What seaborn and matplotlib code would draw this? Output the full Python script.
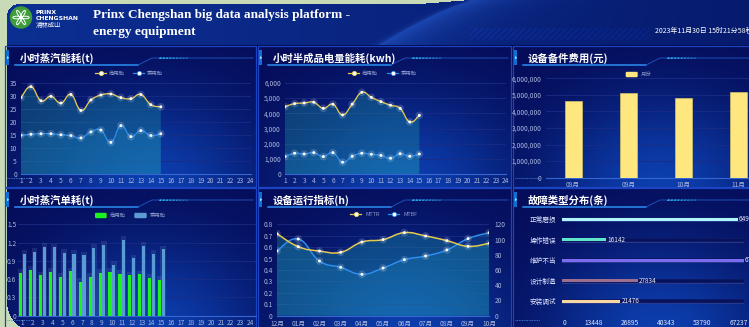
import numpy as np
import pandas as pd
import matplotlib
matplotlib.use("Agg")
import matplotlib.pyplot as plt
import seaborn as sns
from matplotlib.path import Path
from matplotlib.patches import PathPatch, Rectangle, FancyBboxPatch, Circle, Ellipse, Polygon
from matplotlib.colors import to_rgb
from matplotlib.ticker import FuncFormatter
import matplotlib.transforms as mtransforms

W, H = 749, 327

# ---------------- data ----------------
hours = list(range(1, 25))
steam_commercial = [29.3, 33.5, 28.1, 29.8, 27.2, 30.5, 24.4, 28.4, 30.3, 30.7, 29.3, 28.9, 30.5, 26.6, 25.8]
steam_passenger = [14.9, 15.3, 15.5, 15.5, 15.1, 14.8, 13.9, 16.2, 16.9, 12.2, 18.6, 14.4, 16.7, 14.8, 15.5]
power_commercial = [4430, 4630, 4670, 4720, 4320, 4590, 3890, 4590, 5370, 5040, 4760, 4520, 4320, 3430, 3860]
power_passenger = [1160, 1380, 1330, 1420, 1160, 1420, 790, 1180, 1380, 1310, 1240, 1050, 1350, 1180, 1330]
spare_months = ['08月', '09月', '10月', '11月']
spare_cost = [4650000, 5090000, 4790000, 5150000]
unit_commercial = [0.70, 0.75, 0.66, 0.72, 0.64, 0.73, 0.56, 0.64, 0.70, 0.72, 0.69, 0.66, 0.68, 0.62, 0.59]
unit_passenger = [1.02, 1.05, 1.13, 1.12, 1.03, 1.02, 0.99, 1.11, 1.16, 0.83, 1.25, 0.94, 1.15, 1.02, 1.09]
run_months = ['12月', '01月', '02月', '03月', '04月', '05月', '06月', '07月', '08月', '09月', '10月']
mttr = [0.717, 0.604, 0.566, 0.555, 0.645, 0.666, 0.727, 0.698, 0.657, 0.607, 0.634]
mtbf = [85, 100.7, 71.8, 63.5, 54.3, 62.6, 73.6, 78.4, 86.3, 101.2, 109]
fault_types = ['正常磨损', '操作错误', '维护不当', '设计制造', '安装调试']
fault_counts = [64917, 16142, 67237, 27834, 21476]
fault_ticks = [0, 13448, 26895, 40343, 53790, 67237]

COMMERCIAL, PASSENGER = '商用胎', '乘用胎'
panel_titles = ['小时蒸汽能耗(t)', '小时半成品电量能耗(kwh)', '设备备件费用(元)',
                '小时蒸汽单耗(t)', '设备运行指标(h)', '故障类型分布(条)']

# ---------------- style ----------------
YELLOW_LINE = '#e6c84c'
BLUE_LINE = '#2f8ceb'
TICK = '#a9b5dc'
GRID = '#1a2c84'
AXIS = '#3566d2'
BAR_GREEN = '#1ef21e'
BAR_BLUE = '#5b9bd5'
BAR_YELLOW = '#fee77f'
fault_colors = ['#aef5ff', '#5fe6c9', '#7a6cf0', '#9c6f8f', '#f6d7a4']

plt.rcParams['font.family'] = ['Noto Sans CJK SC', 'DejaVu Sans']
plt.rcParams['axes.unicode_minus'] = False

fig = plt.figure(figsize=(W / 100, H / 100), dpi=100)
fig.patch.set_facecolor('#c8dbb6')

# ---------------- background canvas ----------------
yy, xx = np.mgrid[0:H, 0:W] + 0.5
img = np.empty((H, W, 3))
img[:] = to_rgb('#c8dbb6')

left = 7.0
top_edge = np.interp(xx, [0, 420, 470, W], [4, 4, 0, 0])
inside = (xx >= left) & (yy >= top_edge)
r1, c1 = 12, (left + 12, 4 + 12)
inside &= ~((xx < c1[0]) & (yy < c1[1]) & ((xx - c1[0]) ** 2 + (yy - c1[1]) ** 2 > r1 ** 2))
r2, c2 = 30, (left + 30, H + 5 - 30)
inside &= ~((xx < c2[0]) & (yy > c2[1]) & ((xx - c2[0]) ** 2 + (yy - c2[1]) ** 2 > r2 ** 2))

def lerp(a, b, t):
    a = np.array(to_rgb(a)); b = np.array(to_rgb(b))
    return a + (b - a) * t[..., None]

# header band
hdr = lerp('#0c2f93', '#061b6e', np.clip(xx / W, 0, 1))
curve_x = 470 - 90 * np.clip((yy - 2) / 43, 0, 1) ** 0.8
d = xx - curve_x
swoosh = np.where(d > 0, np.exp(-d / 40.0), np.exp(d / 4.0)) * 0.55
hdr = hdr + (np.array(to_rgb('#2a62d6')) - hdr) * swoosh[..., None]
stripes = ((np.floor((xx + yy) / 3.0) % 2) == 0) & (xx > 470) & (xx < 650) & (yy > 28) & (yy < 40)
hdr[stripes] = hdr[stripes] * 1.15
body = np.empty_like(img); body[:] = to_rgb('#030a4c')
m_hdr = inside & (yy < 45)
m_body = inside & (yy >= 45)
img[m_hdr] = hdr[m_hdr]
img[m_body] = body[m_body]

panels = [(5, 46, 256, 187), (258, 46, 511, 187), (513, 46, 765, 187),
          (5, 188, 256, 345), (258, 188, 511, 345), (513, 188, 765, 345)]
for (x0, y0, x1, y1) in panels:
    w, h = x1 - x0, min(y1, H + 8) - y0
    cx, cy = x0 + 0.58 * w, y0 + h
    dd = ((xx - cx) / (0.6 * w)) ** 2 + ((yy - cy) / (0.85 * h)) ** 2
    col = lerp('#050c58', '#0c3ead', np.exp(-1.7 * dd))
    sub = inside & (xx >= x0) & (xx < x1) & (yy >= y0) & (yy < y1)
    img[sub] = col[sub]

bg = fig.add_axes([0, 0, 1, 1])
bg.imshow(img, extent=(0, W, H, 0), aspect='auto', interpolation='bilinear', zorder=0)
bg.set_xlim(0, W); bg.set_ylim(H, 0); bg.axis('off')

for (x0, y0, x1, y1) in panels:
    bg.add_patch(Rectangle((x0, y0), x1 - x0, y1 - y0, fill=False, ec='#1b44c2', lw=0.9, zorder=1))

# ---------------- header ----------------
bg.add_patch(Circle((21, 17.5), 10.5, color='#3e9c3b', zorder=2))
for ang in range(0, 360, 60):
    bg.add_patch(Ellipse((21 + 4.2 * np.cos(np.radians(ang)), 17.5 + 4.2 * np.sin(np.radians(ang))),
                         8.0, 2.6, angle=ang, fc='none', ec='white', lw=0.7, zorder=3))
bg.add_patch(Circle((21, 17.5), 1.4, color='white', zorder=3))
bg.text(36, 13, 'PRINX', color='white', fontsize=4.4, fontweight='bold', family='DejaVu Sans', va='center')
bg.text(36, 19, 'CHENGSHAN', color='white', fontsize=4.4, fontweight='bold', family='DejaVu Sans', va='center')
bg.text(36, 25.3, '浦林成山', color='white', fontsize=4.6, va='center')
bg.text(93, 15, 'Prinx Chengshan big data analysis platform -', color='white', fontsize=9.5,
        fontweight='bold', family='Liberation Serif', va='center')
bg.text(93, 32, 'energy equipment', color='white', fontsize=9.5,
        fontweight='bold', family='Liberation Serif', va='center')
bg.text(655, 31, '2023年11月30日 15时21分58秒', color='white', fontsize=5, va='center')

# ---------------- panel headers ----------------
def panel_header(x0, y0, x1, title):
    bg.add_patch(Rectangle((x0 + 1.2, y0 + 4), 2.4, 15, color='#0f6fd2', lw=0, zorder=2))
    bg.add_patch(Polygon([(x0 + 2, y0 + 10), (x0 + 4.2, y0 + 11.7), (x0 + 2, y0 + 13.4)],
                         color='#9fe0ff', lw=0, zorder=3))
    bg.text(x0 + 15, y0 + 12, title, color='white', fontsize=7.5, fontweight='bold',
            va='center', ha='left', zorder=3)
    bg.plot([x0 + 10, x0 + 133], [y0 + 19, y0 + 19], color='#2b8df2', lw=1.1, zorder=2)
    bg.plot([x0 + 133, x0 + 147, x1 - 3], [y0 + 19, y0 + 12, y0 + 12], color='#1d4fb8', lw=0.7, zorder=2)
    for k in range(9):
        xs = x0 + 154 + k * 3.3
        bg.add_patch(Polygon([(xs, y0 + 13), (xs + 2.2, y0 + 13), (xs + 3, y0 + 11.4), (xs + 0.8, y0 + 11.4)],
                             color='#2fb8f0', alpha=1 - k * 0.08, lw=0, zorder=3))

for (x0, y0, x1, y1), t in zip(panels, panel_titles):
    panel_header(x0, y0, min(x1, W + 5), t)

for x0, yb in [(5, 177.7), (513, 177.7), (5, 320), (513, 320)]:
    bg.plot([x0 + 2, x0 + 27], [yb, yb], ls=(0, (1, 1)), color='#4b8fe8', lw=0.6, zorder=2)

# ---------------- helpers ----------------
def add_ax(x0, y0, x1, y1, **kw):
    return fig.add_axes([x0 / W, 1 - y1 / H, (x1 - x0) / W, (y1 - y0) / H], **kw)

def style(ax, grid=True, bottom=True):
    ax.set_facecolor('none')
    for s in ax.spines.values():
        s.set_visible(False)
    if bottom:
        ax.spines['bottom'].set_visible(True)
        ax.spines['bottom'].set_color(AXIS)
        ax.spines['bottom'].set_linewidth(0.8)
    ax.tick_params(axis='both', length=0, labelsize=4.8, labelcolor=TICK)
    ax.tick_params(axis='x', pad=2.3)
    ax.tick_params(axis='y', pad=2.9)
    if grid:
        ax.yaxis.grid(True, color=GRID, lw=0.6)
        ax.set_axisbelow(True)
    ax.set_xlabel('')
    ax.set_ylabel('')

def smooth_path(xs, ys, k=0.22, base=None):
    pts = np.column_stack([np.asarray(xs, float), np.asarray(ys, float)])
    n = len(pts)
    verts, codes = [], []
    if base is not None:
        verts += [(pts[0, 0], base), tuple(pts[0])]
        codes += [Path.MOVETO, Path.LINETO]
    else:
        verts.append(tuple(pts[0]))
        codes.append(Path.MOVETO)
    for i in range(n - 1):
        p0, p1 = pts[max(i - 1, 0)], pts[i]
        p2, p3 = pts[i + 1], pts[min(i + 2, n - 1)]
        verts += [tuple(p1 + (p2 - p0) * k), tuple(p2 - (p3 - p1) * k), tuple(p2)]
        codes += [Path.CURVE4] * 3
    if base is not None:
        verts += [(pts[-1, 0], base), (pts[0, 0], base)]
        codes += [Path.LINETO, Path.CLOSEPOLY]
    return Path(verts, codes)

def draw_fill(ax, xs, ys, color, alpha):
    ax.add_patch(PathPatch(smooth_path(xs, ys, base=0), fc=color, ec='none', alpha=alpha, zorder=1))

def draw_line(ax, xs, ys, color, lw=0.95):
    ax.add_patch(PathPatch(smooth_path(xs, ys), fc='none', ec=color, lw=lw, zorder=3))
    sns.scatterplot(x=xs, y=ys, ax=ax, s=30, color='white', alpha=0.16, edgecolor='none',
                    legend=False, zorder=4)
    sns.scatterplot(x=xs, y=ys, ax=ax, s=4.5, color='white', edgecolor='none', legend=False, zorder=5)

def line_legend(items, y):
    for x, color, label, gap in items:
        bg.plot([x, x + 11], [y, y], color=color, lw=0.9, zorder=4)
        bg.scatter([x + 5.5], [y], s=10, color='white', edgecolors=color, linewidths=0.5, zorder=5)
        bg.text(x + gap, y, label, fontsize=3.9, color='#8e9ccc', va='center', zorder=5)

def box_legend(items, y):
    for x, wdt, color, label in items:
        bg.add_patch(FancyBboxPatch((x, y - 2.7), wdt, 5.4, boxstyle='round,pad=0,rounding_size=1.2',
                                    fc=color, ec='none', zorder=4))
        bg.text(x + wdt + 3, y, label, fontsize=3.9, color='#8e9ccc', va='center', zorder=5)

# ---------------- panel 1: hourly steam consumption ----------------
ax1 = add_ax(21, 82.7, 250.7, 174.3)
x_used = hours[:len(steam_commercial)]
draw_fill(ax1, x_used, steam_commercial, '#1fa6a6', 0.30)
draw_fill(ax1, x_used, steam_passenger, '#1f90c4', 0.22)
draw_line(ax1, x_used, steam_commercial, YELLOW_LINE)
draw_line(ax1, x_used, steam_passenger, BLUE_LINE)
ax1.set_xlim(1, 24); ax1.set_ylim(0, 35)
ax1.set_xticks(hours); ax1.set_yticks(range(0, 36, 5))
style(ax1)
line_legend([(95, YELLOW_LINE, COMMERCIAL, 14), (133, BLUE_LINE, PASSENGER, 14)], 73.3)

# ---------------- panel 2: semi-finished product power ----------------
ax2 = add_ax(285, 82.7, 505.7, 174.3)
x_used = hours[:len(power_commercial)]
draw_fill(ax2, x_used, power_commercial, '#1fa6a6', 0.30)
draw_fill(ax2, x_used, power_passenger, '#1f90c4', 0.22)
draw_line(ax2, x_used, power_commercial, YELLOW_LINE)
draw_line(ax2, x_used, power_passenger, BLUE_LINE)
ax2.set_xlim(1, 24); ax2.set_ylim(0, 6000)
ax2.set_xticks(hours); ax2.set_yticks(range(0, 6001, 1000))
ax2.yaxis.set_major_formatter(FuncFormatter(lambda v, p: f'{v:,.0f}'))
style(ax2)
line_legend([(348, YELLOW_LINE, COMMERCIAL, 14), (387, BLUE_LINE, PASSENGER, 14)], 73.3)

# ---------------- panel 3: spare part cost ----------------
ax3 = add_ax(545.5, 78.3, 766.5, 177.7)
sns.barplot(x=spare_months, y=spare_cost, color=BAR_YELLOW, width=0.31, saturation=1,
            edgecolor='#e9cf63', linewidth=0.4, ax=ax3, zorder=3)
ax3.set_ylim(0, 6000000); ax3.set_xlim(-0.5, 3.5)
ax3.set_yticks(range(0, 6000001, 1000000))
ax3.yaxis.set_major_formatter(FuncFormatter(lambda v, p: f'{v:,.0f}'))
style(ax3)
box_legend([(625.7, 12, BAR_YELLOW, '月份')], 74.5)

# ---------------- panel 4: steam per unit ----------------
ax4 = add_ax(17.7, 224.3, 255.6, 315.7)
n_used = len(unit_commercial)
df_unit = pd.DataFrame({
    'hour': hours[:n_used] * 2,
    'value': unit_commercial + unit_passenger,
    'type': [COMMERCIAL] * n_used + [PASSENGER] * n_used,
})
sns.barplot(data=df_unit, x='hour', y='value', hue='type', order=hours,
            hue_order=[COMMERCIAL, PASSENGER], palette=[BAR_GREEN, BAR_BLUE],
            width=0.74, gap=0.12, saturation=1, errorbar=None, legend=False, ax=ax4, zorder=3)
for p in list(ax4.patches):
    hgt = p.get_height()
    if hgt > 0:
        ax4.add_patch(Rectangle((p.get_x() - 0.12, 0), p.get_width() + 0.24, hgt + 0.06,
                                fc='#8a98cc', ec='none', alpha=0.16, zorder=2))
ax4.set_xlim(-0.5, 23.5); ax4.set_ylim(0, 1.5)
ax4.set_yticks([0, 0.3, 0.6, 0.9, 1.2, 1.5])
ax4.yaxis.set_major_formatter(FuncFormatter(lambda v, p: f'{v:g}'))
style(ax4)
ax4.tick_params(axis='y', pad=1.0)
box_legend([(95, 11.7, BAR_GREEN, COMMERCIAL), (134.3, 12.4, BAR_BLUE, PASSENGER)], 215.5)

# ---------------- panel 5: MTTR / MTBF ----------------
pos5 = (277, 224.3, 489.3, 315.7)
ax5 = add_ax(*pos5)
xm = np.arange(len(run_months))
draw_fill(ax5, xm, mttr, '#1fa6a6', 0.30)
ax5.set_xlim(0, len(run_months) - 1); ax5.set_ylim(0, 0.8)
ax5.set_xticks(xm, run_months)
ax5.set_yticks(np.arange(0, 0.81, 0.1))
ax5.yaxis.set_major_formatter(FuncFormatter(lambda v, p: f'{v:.1f}'.rstrip('0').rstrip('.') if v else '0'))
style(ax5)
ax5.tick_params(axis='x', pad=3.4)
ax5.tick_params(axis='y', pad=3.2)

ax5r = ax5.twinx()
draw_fill(ax5r, xm, mtbf, '#1f90c4', 0.22)
draw_line(ax5r, xm, mtbf, BLUE_LINE, lw=1.1)
ax5r.set_ylim(0, 120); ax5r.set_yticks(range(0, 121, 20))
style(ax5r, grid=False, bottom=False)
ax5r.tick_params(axis='y', pad=3.8)

ax5t = add_ax(*pos5, sharex=ax5, sharey=ax5)
draw_line(ax5t, xm, mttr, YELLOW_LINE, lw=1.1)
ax5t.set_xlim(0, len(run_months) - 1); ax5t.set_ylim(0, 0.8)
ax5t.axis('off')
line_legend([(350, YELLOW_LINE, 'MTTR', 15.5), (388, BLUE_LINE, 'MTBF', 15.5)], 214.3)

# ---------------- panel 6: fault types ----------------
ax6 = add_ax(562.3, 209, 744, 311.6)
fault_max = fault_ticks[-1]
for i in range(len(fault_types)):
    ax6.plot([0, fault_max], [i, i], color='#2b3b8c', lw=3.5, solid_capstyle='round', zorder=1)
    ax6.plot([0, fault_max], [i, i], color='#07125c', lw=2.6, solid_capstyle='round', zorder=2)
sns.barplot(x=fault_counts, y=fault_types, hue=fault_types, palette=fault_colors, orient='h',
            width=0.16, saturation=1, legend=False, ax=ax6, zorder=3)
for i, v in enumerate(fault_counts):
    ax6.annotate(str(v), (v, i), xytext=(0.8, 0), textcoords='offset points',
                 va='center', ha='left', fontsize=4.6, color='#e6ecff', zorder=5)
ax6.set_xlim(0, fault_max); ax6.set_ylim(len(fault_types) - 0.5, -0.5)
ax6.set_xticks(fault_ticks, [str(t) for t in fault_ticks])
style(ax6, grid=False, bottom=False)
ax6.tick_params(axis='y', pad=4.3, labelcolor='#dfe6ff', labelsize=4.8)
ax6.tick_params(axis='x', pad=5.0, labelcolor='#dfe6ff', labelsize=4.8)
shift = mtransforms.ScaledTranslation(4 / 100, 0, fig.dpi_scale_trans)
for lbl in ax6.get_xticklabels():
    lbl.set_horizontalalignment('right')
    lbl.set_transform(lbl.get_transform() + shift)

fig.savefig('out.png', dpi=100, facecolor=fig.get_facecolor())
